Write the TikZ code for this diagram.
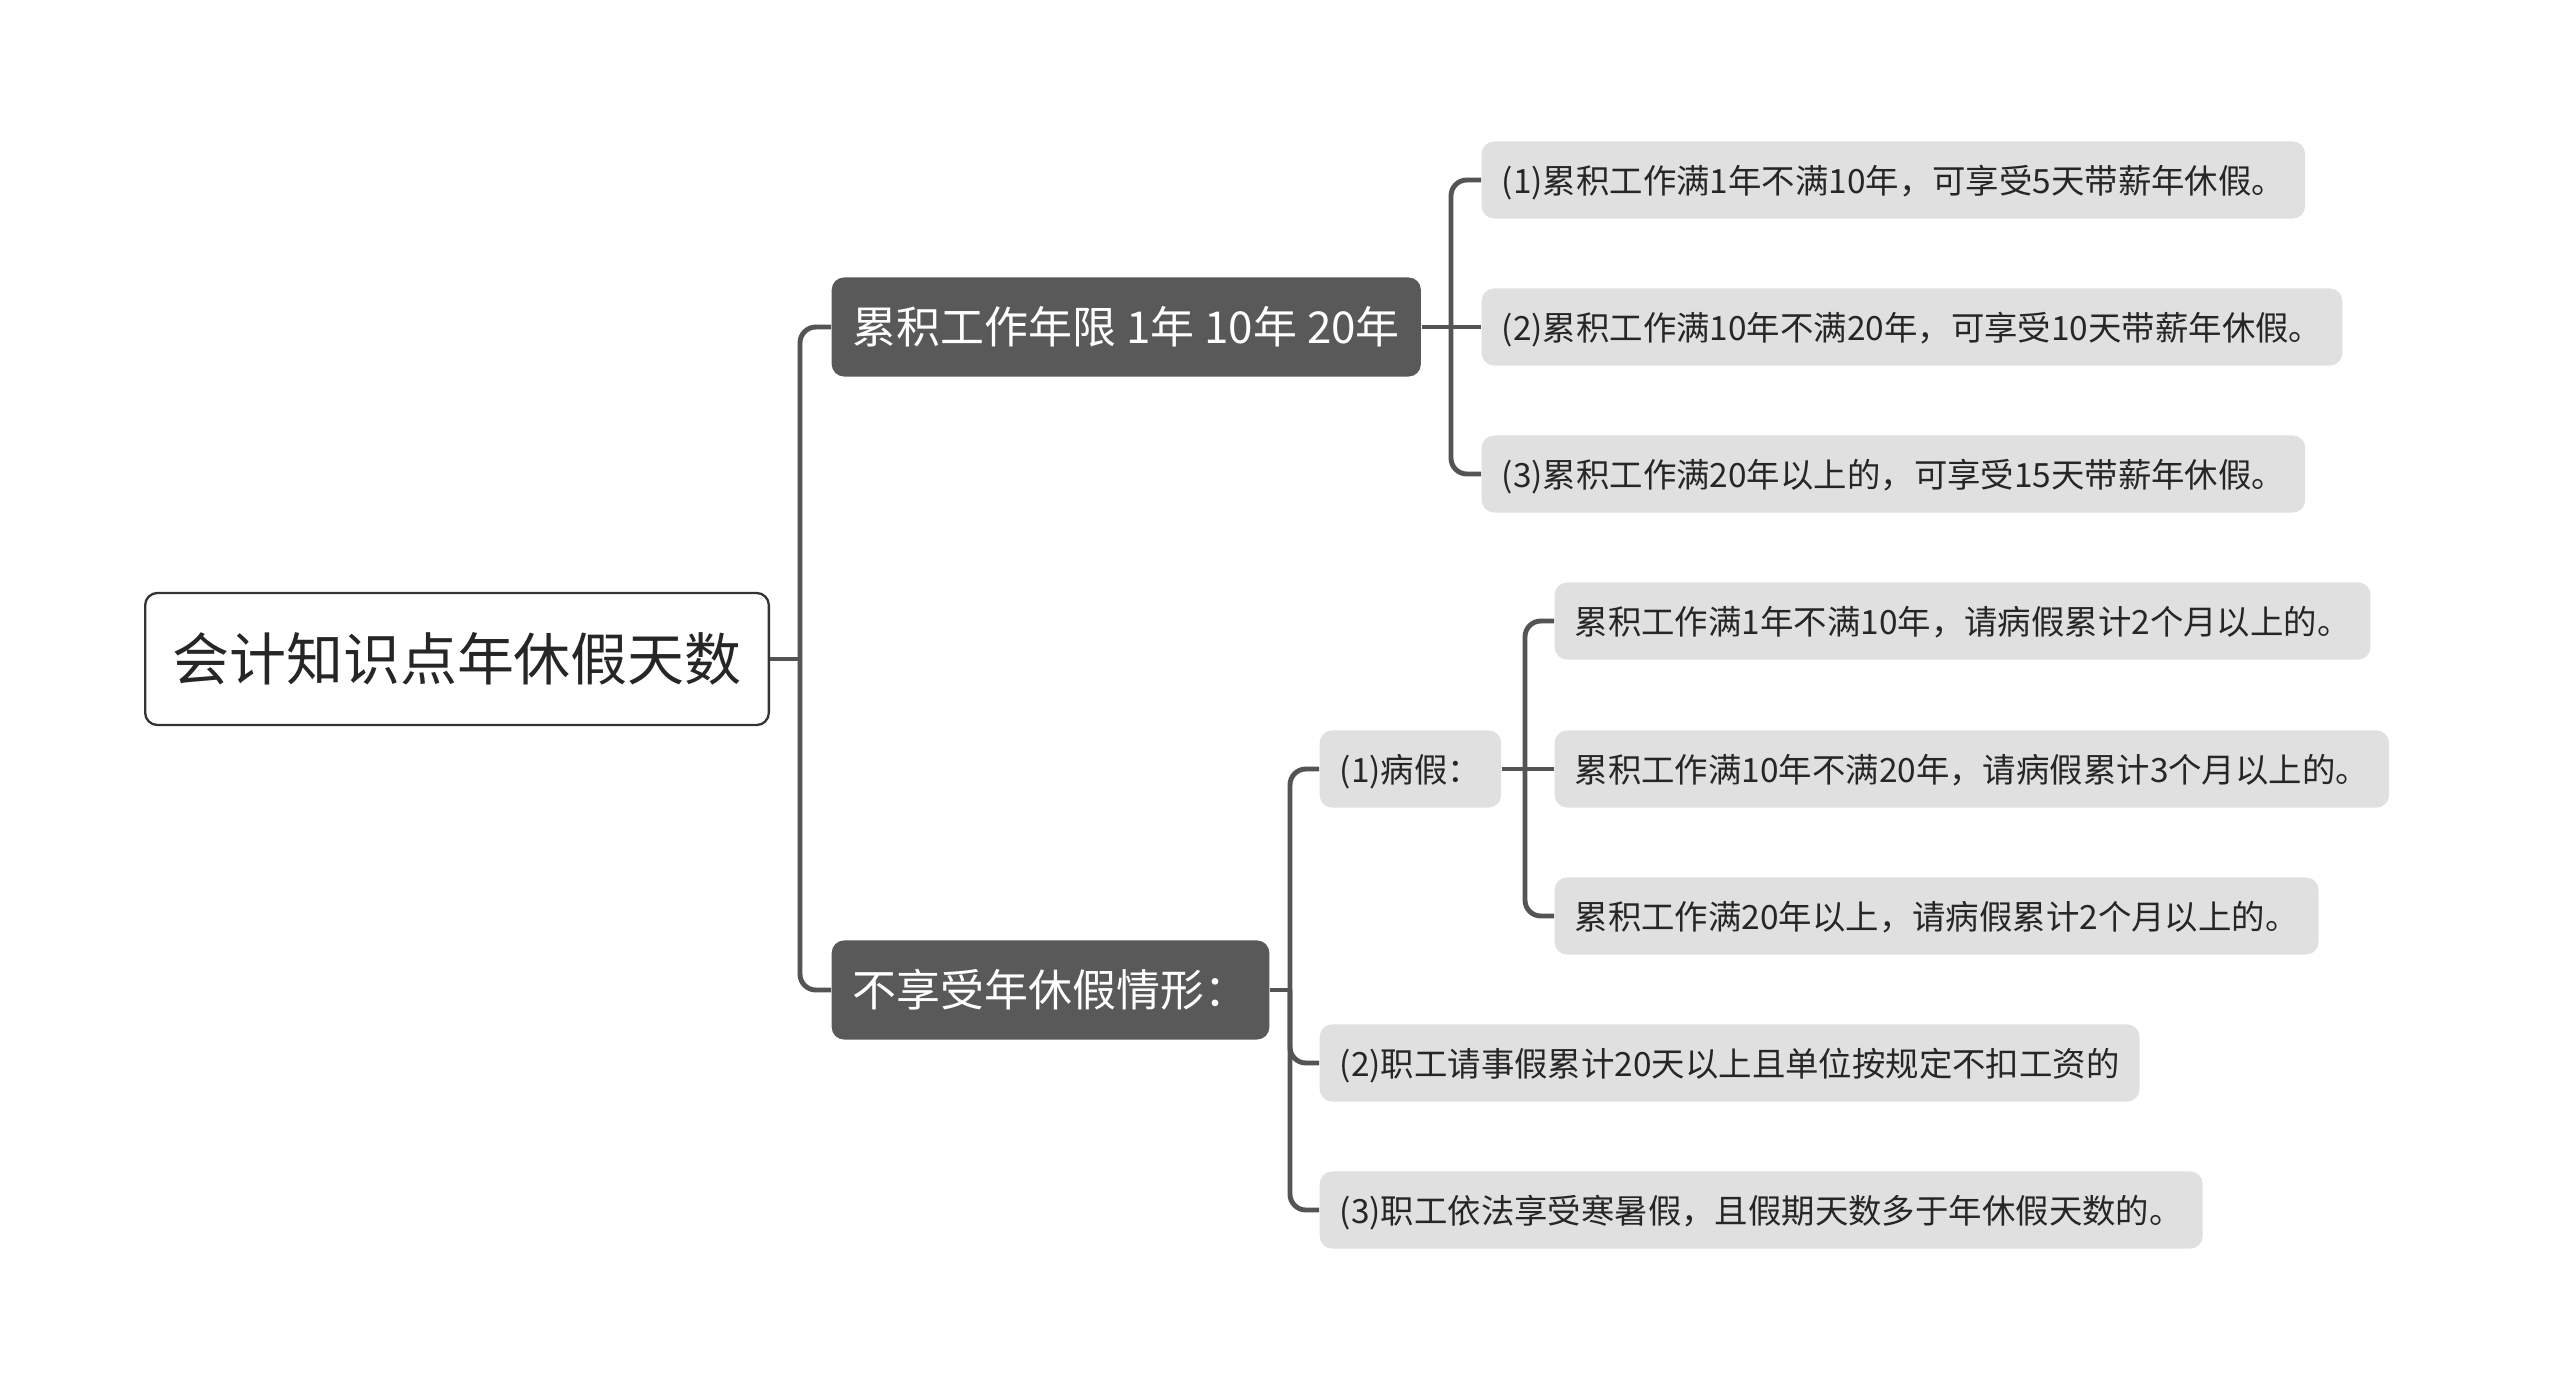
\documentclass[tikz,border=0pt]{standalone}
\usepackage{fontspec}
\setmainfont{Noto Sans CJK SC}
\usepackage{xcolor}
\usetikzlibrary{positioning}

\begin{document}
\begin{tikzpicture}[
  x=0.01cm, y=-0.01cm,
  root/.style={draw=black!80, line width=0.65pt, rounded corners=3.5pt, fill=white, text=black!85, font=\fontsize{16.2}{19}\selectfont, minimum height=1.32cm, inner xsep=0.27cm, inner ysep=0pt, anchor=west},
  topic/.style={fill=black!65, rounded corners=3.5pt, text=white, font=\fontsize{12.5}{15}\selectfont, minimum height=0.99cm, inner xsep=0.21cm, inner ysep=0pt, anchor=west},
  leaf/.style={fill=black!12, rounded corners=3.5pt, text=black!85, font=\fontsize{9.5}{12}\selectfont, minimum height=0.77cm, inner xsep=0.2cm, inner ysep=0pt, text height=0.9em, text depth=0.14em, anchor=west},
  link/.style={draw=black!67, line width=1.4pt, rounded corners=4.5pt}
]
\path[fill=white, use as bounding box] (0,0) rectangle (2560,1391);

\node[root] (root) at (144,659) {会计知识点年休假天数};

\node[topic] (years) at (831,327) {累积工作年限 1年 10年 20年};
\node[topic] (nonleave) at (831,990) {不享受年休假情形：};

\node[leaf] (years1) at (1481,180) {(1)累积工作满1年不满10年，可享受5天带薪年休假。};
\node[leaf] (years2) at (1481,327) {(2)累积工作满10年不满20年，可享受10天带薪年休假。};
\node[leaf] (years3) at (1481,474) {(3)累积工作满20年以上的，可享受15天带薪年休假。};

\node[leaf] (sick) at (1319,769) {(1)病假：};
\node[leaf] (sick1) at (1554,621) {累积工作满1年不满10年，请病假累计2个月以上的。};
\node[leaf] (sick2) at (1554,769) {累积工作满10年不满20年，请病假累计3个月以上的。};
\node[leaf] (sick3) at (1554,916) {累积工作满20年以上，请病假累计2个月以上的。};
\node[leaf] (personal) at (1319,1063) {(2)职工请事假累计20天以上且单位按规定不扣工资的};
\node[leaf] (holiday) at (1319,1210) {(3)职工依法享受寒暑假，且假期天数多于年休假天数的。};

% junctions
\coordinate (j0) at (800,659);
\coordinate (j1) at (1451,327);
\coordinate (j2) at (1290,990);
\coordinate (j3) at (1525,769);

\draw[link] (root.east) -- (j0);
\draw[link] (j0) |- (years.west);
\draw[link] (j0) |- (nonleave.west);

\draw[link] (years.east) -- (j1);
\draw[link] (j1) |- (years1.west);
\draw[link] (j1) -- (years2.west);
\draw[link] (j1) |- (years3.west);

\draw[link] (nonleave.east) -- (j2);
\draw[link] (j2) |- (sick.west);
\draw[link] (j2) |- (personal.west);
\draw[link] (j2) |- (holiday.west);

\draw[link] (sick.east) -- (j3);
\draw[link] (j3) |- (sick1.west);
\draw[link] (j3) -- (sick2.west);
\draw[link] (j3) |- (sick3.west);
\end{tikzpicture}
\end{document}
